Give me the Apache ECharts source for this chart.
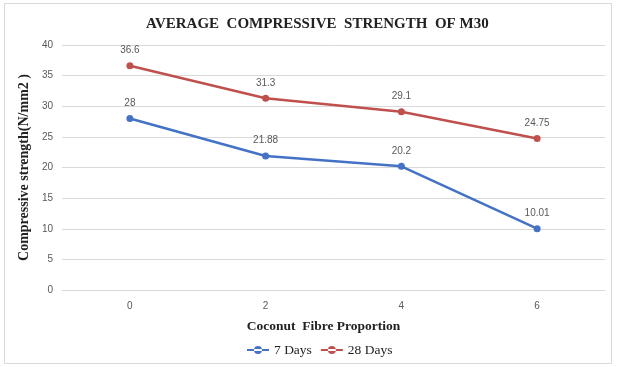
<!DOCTYPE html>
<html>
<head>
<meta charset="utf-8">
<script src="https://cdn.jsdelivr.net/npm/echarts@6/dist/echarts.min.js"></script>
<style>
  html, body { margin: 0; padding: 0; background: #fff; }
  #chart { width: 617px; height: 367px; }
</style>
</head>
<body>
<div id="chart"></div>
<script>
const categories = ["0", "2", "4", "6"];
const days7 = [28, 21.88, 20.2, 10.01];
const days28 = [36.6, 31.3, 29.1, 24.75];

const serif = "'Liberation Serif', 'Times New Roman', serif";
const sans = "'Liberation Sans', Arial, sans-serif";

const chart = echarts.init(document.getElementById("chart"));
chart.setOption({
  backgroundColor: "#fff",
  animation: false,
  graphic: [{
    type: "rect",
    shape: { x: 4.5, y: 3.5, width: 607, height: 360 },
    style: { fill: "none", stroke: "#d9d9d9", lineWidth: 1 }
  }],
  title: {
    text: "AVERAGE  COMPRESSIVE  STRENGTH  OF M30",
    left: 141,
    top: 12,
    textStyle: { fontFamily: serif, fontSize: 15, fontWeight: "bold", color: "#222" }
  },
  legend: {
    bottom: 5,
    left: 242,
    itemWidth: 22,
    itemHeight: 8,
    itemGap: 9,
    icon: "path://M0,4 L22,4 L22,6 L0,6 Z M7,5 a4,4 0 1,0 8,0 a4,4 0 1,0 -8,0 Z",
    textStyle: { fontFamily: serif, fontSize: 13.5, color: "#222" },
    data: ["7 Days", "28 Days"]
  },
  grid: { left: 62, right: 12, top: 45, bottom: 77 },
  xAxis: {
    type: "category",
    data: categories,
    boundaryGap: true,
    name: "Coconut  Fibre Proportion",
    nameLocation: "middle",
    nameGap: 30,
    nameTextStyle: { fontFamily: serif, fontSize: 13.5, fontWeight: "bold", color: "#222", padding: [0, 20, 0, 0] },
    axisLine: { lineStyle: { color: "#d9d9d9" } },
    axisTick: { show: false },
    axisLabel: { color: "#595959", fontFamily: sans, fontSize: 10, margin: 11 }
  },
  yAxis: {
    type: "value",
    min: 0,
    max: 40,
    interval: 5,
    name: "Compressive strength(N/mm2 )",
    nameLocation: "middle",
    nameGap: 27,
    nameTextStyle: { fontFamily: serif, fontSize: 14, fontWeight: "bold", color: "#222" },
    axisLine: { show: false },
    axisTick: { show: false },
    splitLine: { lineStyle: { color: "#d9d9d9" } },
    axisLabel: { color: "#595959", fontFamily: sans, fontSize: 10, margin: 9 }
  },
  series: [
    {
      name: "7 Days",
      type: "line",
      data: days7,
      symbol: "circle",
      symbolSize: 7,
      color: "#4472c4",
      lineStyle: { width: 2.5, color: "#4472c4" },
      label: { show: true, position: "top", distance: 7, color: "#595959", fontFamily: sans, fontSize: 10 }
    },
    {
      name: "28 Days",
      type: "line",
      data: days28,
      symbol: "circle",
      symbolSize: 7,
      color: "#c0504d",
      lineStyle: { width: 2.5, color: "#c0504d" },
      label: { show: true, position: "top", distance: 7, color: "#595959", fontFamily: sans, fontSize: 10 }
    }
  ]
});
</script>
</body>
</html>
